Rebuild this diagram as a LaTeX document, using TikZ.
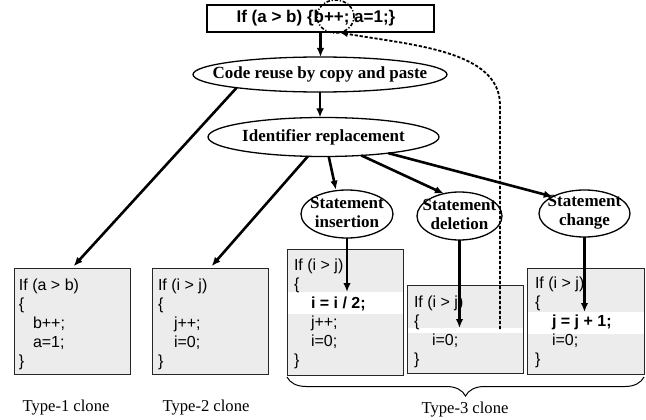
\documentclass[tikz,border=0pt]{standalone}
\usepackage{fontspec}
\setmainfont{Liberation Serif}
\setsansfont{Liberation Sans}
\usetikzlibrary{arrows.meta,shapes.geometric,decorations.pathreplacing,calc}
\begin{document}
\begin{tikzpicture}[x=1pt,y=-1pt,
  every node/.style={inner sep=0pt,outer sep=0pt},
  arr/.style={line width=2.6pt,-{Latex[length=9pt,width=7.5pt]}},
  ell/.style={draw,ellipse,line width=1.3pt},
  lbl/.style={font=\fontsize{17}{19.3}\selectfont\bfseries,align=center},
  code/.style={font=\sffamily\fontsize{16}{19}\selectfont,anchor=base west},
  bcode/.style={font=\sffamily\bfseries\fontsize{16}{19}\selectfont,anchor=base west},
  codebox/.style={draw=black!85,line width=1pt,fill=gray!15,anchor=north west},
  band/.style={fill=white,anchor=north west},
  captxt/.style={font=\fontsize{16.6}{18}\selectfont},
  dashline/.style={line width=1.8pt,dash pattern=on 3.2pt off 1.8pt}
]
\useasboundingbox (0,0) rectangle (646,420);

% top statement
\node[draw,line width=1.3pt,minimum width=227pt,minimum height=27pt] (tb) at (320.5,18.5) {};
\node[font=\sffamily\bfseries\fontsize{17}{19}\selectfont] (tbt) at (316,18.5) {If (a > b) \{b++; a=1;\}};
\node[draw,ellipse,line width=1.6pt,dash pattern=on 3.5pt off 1.8pt on 1.2pt off 1.8pt,minimum width=37pt,minimum height=33pt] (circ) at (335.5,16.5) {};

% ellipses
\node[ell,minimum width=254pt,minimum height=35pt] (e1) at (320,74.5) {};
\node[lbl] (e1t) at (e1) {Code reuse by copy and paste};
\node[ell,minimum width=231pt,minimum height=39pt] (e2) at (323.5,137) {};
\node[lbl] (e2t) at (e2) {Identifier replacement};
\node[ell,minimum width=92pt,minimum height=48pt] (ins) at (347,214) {};
\node[lbl] (inst) at ($(ins)+(0,-1.5)$) {Statement\\insertion};
\node[ell,minimum width=85pt,minimum height=48pt] (del) at (459.5,216) {};
\node[lbl] (delt) at ($(del)+(0,-1.5)$) {Statement\\deletion};
\node[ell,minimum width=91pt,minimum height=47pt] (chg) at (584.5,213.5) {};
\node[lbl] (chgt) at ($(chg)+(0,-1.5)$) {Statement\\change};

% code boxes
\node[codebox,minimum width=116pt,minimum height=106pt] (b1) at (14,268) {};
\node[code] (b1a) at (19,290) {If (a > b)};
\node[code] (b1b) at (19,309) {\{};
\node[code] (b1c) at (33,328) {b++;};
\node[code] (b1d) at (33,347) {a=1;};
\node[code] (b1e) at (19,366) {\}};

\node[codebox,minimum width=116pt,minimum height=106pt] (b2) at (152,268) {};
\node[code] (b2a) at (158,290) {If (i > j)};
\node[code] (b2b) at (158,309) {\{};
\node[code] (b2c) at (174,328) {j++;};
\node[code] (b2d) at (174,347) {i=0;};
\node[code] (b2e) at (158,366) {\}};

\node[codebox,minimum width=116pt,minimum height=125.5pt] (b3) at (287,249.5) {};
\node[band,minimum width=115pt,minimum height=22pt] (insband) at (287.5,292) {};
\node[code] (b3a) at (294,270.5) {If (i > j)};
\node[code] (b3b) at (294,289.5) {\{};
\node[bcode] (b3c) at (311,308.5) {i = i / 2;};
\node[code] (b3d) at (311,327.5) {j++;};
\node[code] (b3e) at (311,346.5) {i=0;};
\node[code] (b3f) at (294,365.5) {\}};

\node[codebox,minimum width=116pt,minimum height=87.5pt] (b4) at (407,285.5) {};
\node[band,minimum width=115pt,minimum height=5pt] (delband) at (407.5,328) {};
\node[code] (b4a) at (414,307) {If (i > j)};
\node[code] (b4b) at (414,326) {\{};
\node[code] (b4c) at (432,345) {i=0;};
\node[code] (b4d) at (414,364) {\}};

\node[codebox,minimum width=117pt,minimum height=106pt] (b5) at (527,268) {};
\node[band,minimum width=116pt,minimum height=22pt] (chgband) at (527.5,312) {};
\node[code] (b5a) at (535,288) {If (i > j)};
\node[code] (b5b) at (535,307) {\{};
\node[bcode] (b5c) at (552,326) {j = j + 1;};
\node[code] (b5d) at (552,345) {i=0;};
\node[code] (b5e) at (535,364) {\}};

% captions
\node[captxt] (c1) at (66,408) {Type-1 clone};
\node[captxt] (c2) at (206,408) {Type-2 clone};
\node[captxt] (c3) at (465,410) {Type-3 clone};
\draw[decorate,decoration={brace,mirror,amplitude=19pt},line width=1pt] (b3.south west |- 0,377) -- (b5.south east |- 0,377);

% arrows
\draw[arr] (tb.south) -- (tb.south |- e1.north);
\draw[arr] (e1.south) -- (e1.south |- e2.north);
\draw[arr,shorten >=2.5pt] (e1.189.5) -- (b1.north);
\draw[arr,shorten >=2.5pt] (e2.231) -- (b2.north);
\draw[arr,shorten >=1pt] (e2.285) -- (ins.115);
\draw[arr] (e2.334) -- (del.125);
\draw[arr] (e2.346) -- (chg.152);
\draw[arr] (ins.south) -- (ins.south |- insband.north);
\draw[arr] (del.south) -- (del.south |- delband.north);
\draw[arr] (chg.south) -- (chg.south |- chgband.north);

% dashed feedback
\coordinate (dstart) at (500,329);
\draw[dashline,-{Latex[length=8pt,width=6.5pt]}] (dstart) -- (500,105) .. controls (500,50) and (410,45) .. (circ.285);
\end{tikzpicture}
\end{document}
